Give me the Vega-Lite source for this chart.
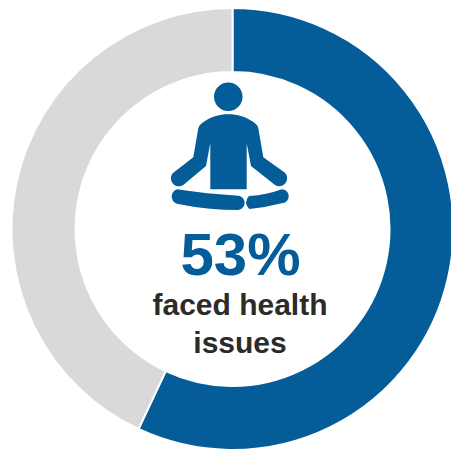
{
  "$schema": "https://vega.github.io/schema/vega-lite/v6.json",
  "width": 465,
  "height": 458,
  "padding": 0,
  "autosize": "none",
  "background": "white",
  "view": {"stroke": null},
  "layer": [
    {
      "data": {"values": [
        {"group": "faced health issues", "share": 53},
        {"group": "other", "share": 40}
      ]},
      "mark": {"type": "arc", "outerRadius": 221, "innerRadius": 157, "stroke": "white", "strokeWidth": 2},
      "encoding": {
        "theta": {"field": "share", "type": "quantitative", "stack": true},
        "order": {"field": "share", "type": "quantitative", "sort": "descending"},
        "color": {
          "field": "group",
          "type": "nominal",
          "legend": null,
          "scale": {"domain": ["faced health issues", "other"], "range": ["#045C98", "#D9D9D9"]}
        }
      }
    },
    {
      "data": {"values": [{"icon": "meditating figure"}]},
      "mark": {
        "type": "point",
        "filled": true,
        "opacity": 1,
        "size": 4,
        "color": "#045C98",
        "strokeWidth": 0,
        "shape": "M-18.5,-132.3A14.3,14.3 0 1 1 10.1,-132.3A14.3,14.3 0 1 1 -18.5,-132.3ZM-4.2,-114.7C5.5,-114.7 12.5,-112 17.5,-109C22.5,-106 25.3,-104 25.8,-100.7L30.8,-71.7L52.5,-56.3A8,8 0 0 1 42.5,-44L18.5,-63L14.2,-85.7L14.2,-39.7L-22.2,-39.7L-22.2,-85.7L-26.5,-63L-49.2,-44A8,8 0 0 1 -59.8,-55.7L-39.2,-71.7L-34.2,-100.7C-33.5,-104 -30.5,-106 -25.8,-109C-20.5,-112 -13.5,-114.7 -4.2,-114.7ZM-55.2,-39.7Q-25.5,-35 5.8,-33.3A7.2,7.2 0 0 1 5.8,-19Q-25.5,-19 -54.2,-25A7.5,7.5 0 0 1 -55.2,-39.7ZM16.5,-33Q34.2,-34 49.2,-39.7A7,7 0 0 1 49.2,-25.7Q34.2,-21.7 16.8,-20Q10.5,-26.5 16.5,-33Z"
      },
      "encoding": {"detail": {"field": "icon", "type": "nominal"}}
    },
    {
      "data": {"values": [{"label": "53%"}]},
      "mark": {"type": "text", "font": "Liberation Sans", "fontWeight": "bold", "fontSize": 60, "color": "#045C98", "align": "center", "baseline": "alphabetic", "dx": 8, "dy": 46},
      "encoding": {"text": {"field": "label", "type": "nominal"}}
    },
    {
      "data": {"values": [{"label": "faced health"}]},
      "mark": {"type": "text", "font": "Liberation Sans", "fontWeight": "bold", "fontSize": 30, "color": "#2B2B2B", "align": "center", "baseline": "alphabetic", "dx": 7.5, "dy": 86},
      "encoding": {"text": {"field": "label", "type": "nominal"}}
    },
    {
      "data": {"values": [{"label": "issues"}]},
      "mark": {"type": "text", "font": "Liberation Sans", "fontWeight": "bold", "fontSize": 30, "color": "#2B2B2B", "align": "center", "baseline": "alphabetic", "dx": 7.5, "dy": 124},
      "encoding": {"text": {"field": "label", "type": "nominal"}}
    }
  ]
}
